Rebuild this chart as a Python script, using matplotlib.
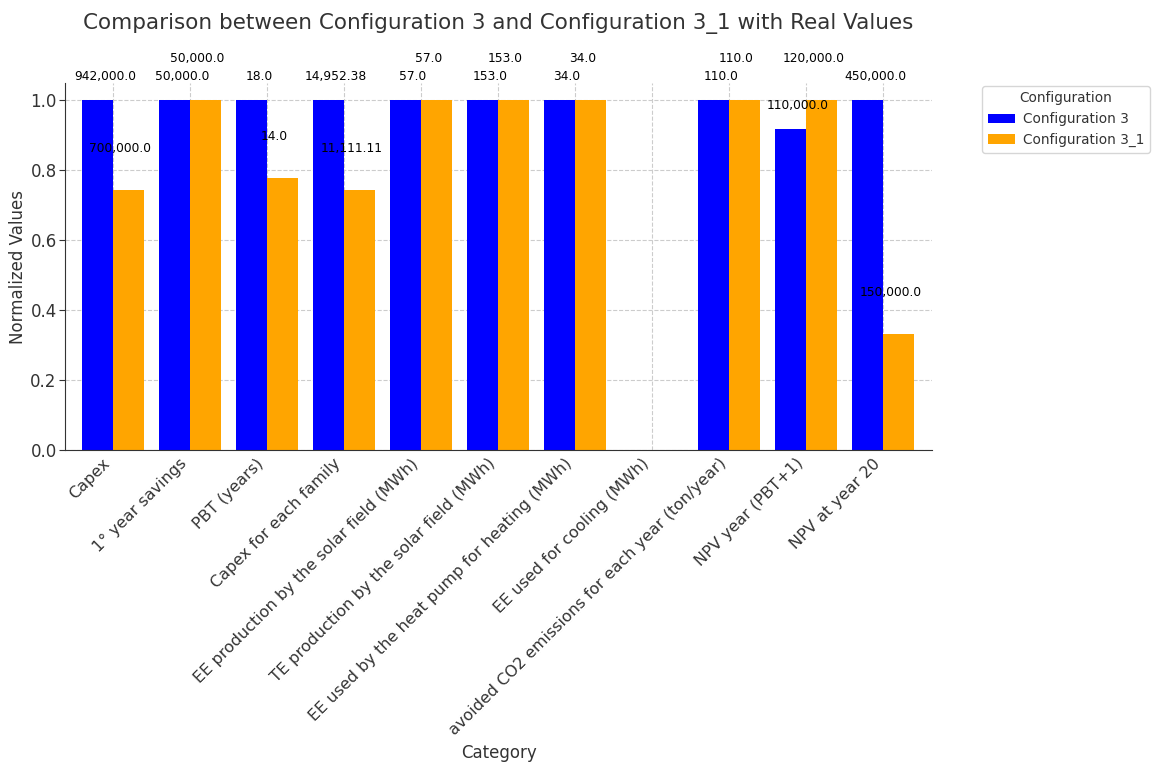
import numpy as np
import matplotlib
matplotlib.use("Agg")
import matplotlib.pyplot as plt

categories = [
    "Capex",
    "1° year savings",
    "PBT (years)",
    "Capex for each family",
    "EE production by the solar field (MWh)",
    "TE production by the solar field (MWh)",
    "EE used by the heat pump for heating (MWh)",
    "EE used for cooling (MWh)",
    "avoided CO2 emissions for each year (ton/year)",
    "NPV year (PBT+1)",
    "NPV at year 20",
]
config_3 = [942000.0, 50000.0, 18.0, 14952.38, 57.0, 153.0, 34.0, 0.0, 110.0, 110000.0, 450000.0]
config_3_1 = [700000.0, 50000.0, 14.0, 11111.11, 57.0, 153.0, 34.0, 0.0, 110.0, 120000.0, 150000.0]
series_names = ["Configuration 3", "Configuration 3_1"]

plt.rcParams["font.family"] = "DejaVu Sans"
text_color = "#333333"

a = np.array(config_3)
b = np.array(config_3_1)
peak = np.maximum(a, b)
with np.errstate(invalid="ignore", divide="ignore"):
    norm_a = np.where(peak > 0, a / peak, np.nan)
    norm_b = np.where(peak > 0, b / peak, np.nan)

fig = plt.figure(figsize=(11.52, 7.67), dpi=100)
ax = fig.add_axes([0.0564, 0.413, 0.7527, 0.479])

x = np.arange(len(categories))
w = 0.4
ax.bar(x - w / 2, np.nan_to_num(norm_a), w, color="blue", label=series_names[0], zorder=2)
ax.bar(x + w / 2, np.nan_to_num(norm_b), w, color="orange", label=series_names[1], zorder=2)

for i in range(len(categories)):
    if peak[i] > 0:
        ax.text(x[i] - 0.1, norm_a[i] + 0.05, f"{a[i]:,}", ha="center", va="bottom",
                fontsize=8.8, color="black")
        ax.text(x[i] + 0.1, norm_b[i] + 0.1, f"{b[i]:,}", ha="center", va="bottom",
                fontsize=8.8, color="black")

ax.set_xlim(-0.62, 10.64)
ax.set_ylim(0, 1.05)
ax.set_xticks(x)
ax.set_xticklabels(categories, rotation=45, ha="right", fontsize=11.5, color=text_color)
ax.set_yticks(np.arange(0, 1.01, 0.2))
ax.set_yticklabels([f"{v:.1f}" for v in np.arange(0, 1.01, 0.2)], fontsize=12, color=text_color)
ax.tick_params(axis="x", length=0, pad=4)
ax.tick_params(axis="y", length=4, pad=2, color=text_color)

ax.grid(True, linestyle="--", color="#cccccc", linewidth=0.8, zorder=0)
ax.set_axisbelow(True)
for side in ("top", "right"):
    ax.spines[side].set_visible(False)
for side in ("left", "bottom"):
    ax.spines[side].set_color(text_color)

ax.set_title("Comparison between Configuration 3 and Configuration 3_1 with Real Values",
             fontsize=15.5, color=text_color, pad=39)
ax.set_xlabel("Category", fontsize=12, color=text_color, labelpad=4)
ax.set_ylabel("Normalized Values", fontsize=12, color=text_color, labelpad=2)

leg = ax.legend(title="Configuration", loc="upper left", bbox_to_anchor=(1.05, 1.01),
                fontsize=9.8, title_fontsize=9.8, handletextpad=0.6)
for t in leg.get_texts():
    t.set_color(text_color)
leg.get_title().set_color(text_color)

fig.savefig("out.png", dpi=100)
